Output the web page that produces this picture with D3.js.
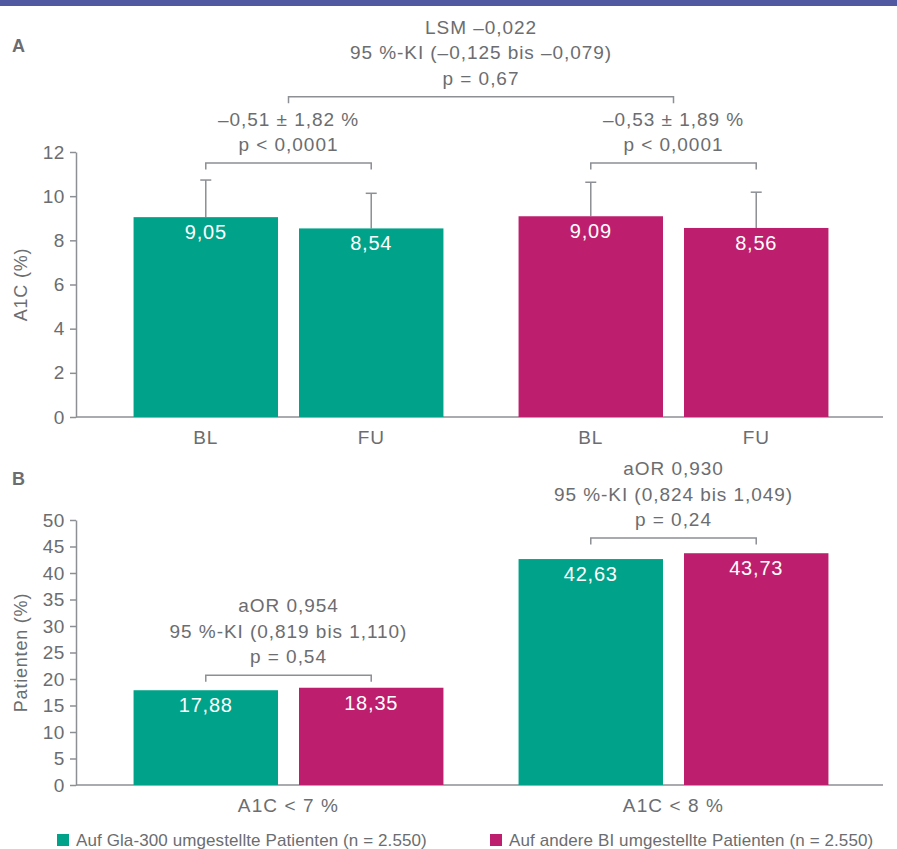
<!DOCTYPE html>
<html>
<head>
<meta charset="utf-8">
<script src="https://cdn.jsdelivr.net/npm/d3@7"></script>
<style>
  body { margin: 0; background: #fff; }
  svg { display: block; font-family: 'Liberation Sans', Arial, sans-serif; }
</style>
</head>
<body>
<svg id="chart"></svg>
<script>
// panel A: A1C at baseline / follow-up
const timepoints = ['BL', 'FU'];
const seriesKeys = ['gla', 'bi'];
const seriesNames = ['Auf Gla-300 umgestellte Patienten (n = 2.550)', 'Auf andere BI umgestellte Patienten (n = 2.550)'];
const a1cGla = [9.05, 8.54];
const a1cBI = [9.09, 8.56];
const sdGla = [1.68, 1.59];
const sdBI = [1.54, 1.62];
const ticksA = [0, 2, 4, 6, 8, 10, 12];

// panel B: patients reaching target
const targets = ['A1C < 7 %', 'A1C < 8 %'];
const pctGla = [17.88, 42.63];
const pctBI = [18.35, 43.73];
const ticksB = [0, 5, 10, 15, 20, 25, 30, 35, 40, 45, 50];

// annotations
const notesA = [
  { from: ['gla', 'BL'], to: ['gla', 'FU'], level: 11.5, lines: ['–0,51 ± 1,82 %', 'p < 0,0001'] },
  { from: ['bi', 'BL'], to: ['bi', 'FU'], level: 11.5, lines: ['–0,53 ± 1,89 %', 'p < 0,0001'] },
  { from: ['gla'], to: ['bi'], level: 14.5, lines: ['LSM –0,022', '95 %-KI (–0,125 bis –0,079)', 'p = 0,67'] }
];
const notesB = [
  { cat: 'A1C < 7 %', level: 20.7, lines: ['aOR 0,954', '95 %-KI (0,819 bis 1,110)', 'p = 0,54'] },
  { cat: 'A1C < 8 %', level: 46.6, lines: ['aOR 0,930', '95 %-KI (0,824 bis 1,049)', 'p = 0,24'] }
];

const W = 897, H = 849;
const colors = { gla: '#00a389', bi: '#bd1e6d' };
const textCol = '#6b6d70';
const axisCol = '#8c8f93';
const de = d3.formatLocale({ decimal: ',', thousands: '.', grouping: [3], currency: ['', '€'] });
const fmt = de.format('.2f');

const svg = d3.select('#chart').attr('width', W).attr('height', H);

svg.append('rect').attr('x', 0).attr('y', 0).attr('width', W).attr('height', 6).attr('fill', '#5159a0');

const x0 = d3.scaleBand().domain([0, 1]).range([96, 866]).padding(0);
const x1 = d3.scaleBand().domain([0, 1]).range([0, x0.bandwidth()]).paddingInner(0.127).paddingOuter(0.227);

const axisLeft = 76, axisRight = 883;

function drawAxis(g, y, ticks, title) {
  const ax = g.append('g')
    .attr('transform', `translate(${axisLeft},0)`)
    .call(d3.axisLeft(y).tickValues(ticks).tickSize(6).tickSizeOuter(0).tickPadding(5));
  ax.select('.domain').attr('stroke', axisCol).attr('stroke-width', 1.5);
  ax.selectAll('.tick line').attr('stroke', axisCol).attr('stroke-width', 1.5);
  ax.selectAll('.tick text')
    .attr('fill', textCol).attr('font-size', 19).attr('letter-spacing', 0.6)
    .attr('font-family', null);
  g.append('line')
    .attr('x1', axisLeft).attr('x2', axisRight)
    .attr('y1', y(0)).attr('y2', y(0))
    .attr('stroke', axisCol).attr('stroke-width', 1.5);
  const [y0, y1] = y.range();
  g.append('text')
    .attr('transform', `translate(27,${(y0 + y1) / 2}) rotate(-90)`)
    .attr('text-anchor', 'middle')
    .attr('fill', textCol)
    .attr('font-size', 18)
    .attr('letter-spacing', 0.8)
    .text(title);
}

function drawNote(g, xa, xb, yb, lines) {
  g.append('path')
    .attr('d', `M${xa},${yb + 6.5}V${yb}H${xb}V${yb + 6.5}`)
    .attr('fill', 'none').attr('stroke', axisCol).attr('stroke-width', 1.5);
  const t = g.append('text')
    .attr('text-anchor', 'middle')
    .attr('fill', textCol)
    .attr('font-size', 19)
    .attr('letter-spacing', 0.95);
  lines.forEach((l, i) => {
    t.append('tspan')
      .attr('x', (xa + xb) / 2)
      .attr('y', yb - 12 - (lines.length - 1 - i) * 25.5)
      .text(l);
  });
}

// ---------- Panel A ----------
const gA = svg.append('g');
const yA = d3.scaleLinear().domain([0, 12]).range([417, 152]);
drawAxis(gA, yA, ticksA, 'A1C (%)');
gA.append('text').attr('x', 12).attr('y', 52).attr('font-weight', 'bold').attr('font-size', 18).attr('fill', textCol).text('A');

const barsA = [];
seriesKeys.forEach((s, si) => {
  const vals = s === 'gla' ? a1cGla : a1cBI;
  const sds = s === 'gla' ? sdGla : sdBI;
  timepoints.forEach((t, ti) => {
    barsA.push({ s, si, t, ti, value: vals[ti], sd: sds[ti] });
  });
});
const xA = d => x0(d.si) + x1(d.ti);
const cxA = (si, ti) => x0(si) + x1(ti) + x1.bandwidth() / 2;

// error bars (behind bars)
const eb = gA.append('g').attr('stroke', axisCol).attr('stroke-width', 1.5);
barsA.forEach(d => {
  const cx = cxA(d.si, d.ti);
  eb.append('line').attr('x1', cx).attr('x2', cx).attr('y1', yA(d.value)).attr('y2', yA(d.value + d.sd));
  eb.append('line').attr('x1', cx - 5.5).attr('x2', cx + 5.5).attr('y1', yA(d.value + d.sd)).attr('y2', yA(d.value + d.sd));
});

gA.selectAll('rect.bar').data(barsA).enter().append('rect')
  .attr('class', 'bar')
  .attr('x', xA)
  .attr('y', d => yA(d.value))
  .attr('width', x1.bandwidth())
  .attr('height', d => yA(0) - yA(d.value))
  .attr('fill', d => colors[d.s]);

gA.selectAll('text.val').data(barsA).enter().append('text')
  .attr('class', 'val')
  .attr('x', d => cxA(d.si, d.ti))
  .attr('y', d => yA(d.value) + 22)
  .attr('text-anchor', 'middle')
  .attr('fill', '#fff')
  .attr('font-size', 20)
  .attr('letter-spacing', 0.8)
  .text(d => fmt(d.value));

gA.selectAll('text.xl').data(barsA).enter().append('text')
  .attr('class', 'xl')
  .attr('x', d => cxA(d.si, d.ti))
  .attr('y', 444)
  .attr('text-anchor', 'middle')
  .attr('fill', textCol)
  .attr('font-size', 19)
  .attr('letter-spacing', 0.8)
  .text(d => d.t);

notesA.forEach(n => {
  let xa, xb;
  if (n.from.length === 2) {
    xa = cxA(seriesKeys.indexOf(n.from[0]), timepoints.indexOf(n.from[1]));
    xb = cxA(seriesKeys.indexOf(n.to[0]), timepoints.indexOf(n.to[1]));
  } else {
    xa = x0(seriesKeys.indexOf(n.from[0])) + x0.bandwidth() / 2;
    xb = x0(seriesKeys.indexOf(n.to[0])) + x0.bandwidth() / 2;
  }
  drawNote(gA, xa, xb, yA(n.level), n.lines);
});

// ---------- Panel B ----------
const gB = svg.append('g');
const yB = d3.scaleLinear().domain([0, 50]).range([785, 520]);
drawAxis(gB, yB, ticksB, 'Patienten (%)');
gB.append('text').attr('x', 12).attr('y', 485).attr('font-weight', 'bold').attr('font-size', 18).attr('fill', textCol).text('B');

const barsB = [];
targets.forEach((c, ci) => {
  seriesKeys.forEach((s, si) => {
    barsB.push({ c, ci, s, si, value: (s === 'gla' ? pctGla : pctBI)[ci] });
  });
});
const cxB = d => x0(d.ci) + x1(d.si) + x1.bandwidth() / 2;

gB.selectAll('rect.bar').data(barsB).enter().append('rect')
  .attr('class', 'bar')
  .attr('x', d => x0(d.ci) + x1(d.si))
  .attr('y', d => yB(d.value))
  .attr('width', x1.bandwidth())
  .attr('height', d => yB(0) - yB(d.value))
  .attr('fill', d => colors[d.s]);

gB.selectAll('text.val').data(barsB).enter().append('text')
  .attr('class', 'val')
  .attr('x', cxB)
  .attr('y', d => yB(d.value) + 22)
  .attr('text-anchor', 'middle')
  .attr('fill', '#fff')
  .attr('font-size', 20)
  .attr('letter-spacing', 0.8)
  .text(d => fmt(d.value));

gB.selectAll('text.xl').data(targets).enter().append('text')
  .attr('class', 'xl')
  .attr('x', (d, i) => x0(i) + x0.bandwidth() / 2)
  .attr('y', 812)
  .attr('text-anchor', 'middle')
  .attr('fill', textCol)
  .attr('font-size', 19)
  .attr('letter-spacing', 1.1)
  .text(d => d);

notesB.forEach(n => {
  const ci = targets.indexOf(n.cat);
  const xa = x0(ci) + x1(0) + x1.bandwidth() / 2;
  const xb = x0(ci) + x1(1) + x1.bandwidth() / 2;
  drawNote(gB, xa, xb, yB(n.level), n.lines);
});

// ---------- Legend ----------
const legendX = [57, 490];
const legend = svg.append('g').selectAll('g').data(seriesKeys).enter().append('g')
  .attr('transform', (d, i) => `translate(${legendX[i]},834)`);
legend.append('rect').attr('width', 12).attr('height', 12).attr('fill', d => colors[d]);
legend.append('text')
  .attr('x', 19).attr('y', 11.5)
  .attr('fill', textCol)
  .attr('font-size', 17)
  .attr('letter-spacing', 0.1)
  .text((d, i) => seriesNames[i]);
</script>
</body>
</html>
